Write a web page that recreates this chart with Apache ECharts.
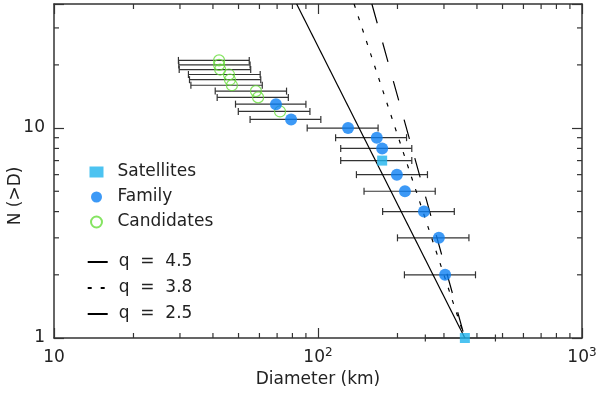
<!DOCTYPE html>
<html>
<head>
<meta charset="utf-8">
<script src="https://cdn.jsdelivr.net/npm/echarts@6/dist/echarts.min.js"></script>
<style>
  html, body { margin: 0; padding: 0; background: #fff; }
  #main { width: 600px; height: 398px; }
</style>
</head>
<body>
<div id="main"></div>
<script>
// values
const satD = [175, 360];
const satN = [7, 1];
const famD = [69.3, 79.1, 130, 167, 175, 199, 213.5, 252, 287, 303];
const famN = [13, 11, 10, 9, 8, 6, 5, 4, 3, 2];
const candD = [42.2, 42.2, 42.6, 46, 46.4, 47.2, 58.2, 59.3, 71.8];
const candN = [21, 20, 19, 18, 17, 16, 15, 14, 12];
// horizontal error bars (low / high diameter) for every N
const errN = [21, 20, 19, 18, 17, 16, 15, 14, 13, 12, 11, 10, 9, 8, 7, 6, 5, 4, 3, 2, 1];
const errLo = [29.6, 29.7, 29.8, 32.3, 32.6, 33.0, 40.8, 41.5, 48.7, 49.9, 55.3, 91.0, 116.6, 121.9, 121.9, 139.8, 149.4, 175.7, 200, 212.5, 255];
const errHi = [54.9, 55.3, 55.6, 60.4, 60.7, 61.5, 76.0, 77.2, 90.0, 93.2, 102.5, 168.9, 216.5, 226.6, 226.6, 259.8, 278, 328.3, 373, 395, 470];
// power law lines, end points [D, N]
const lineQ45 = [[160, 39], [360, 1]];
const lineQ38 = [[137, 39], [360, 1]];
const lineQ25 = [[83, 39], [360, 1]];
// minor tick positions
const xMinor = [20, 30, 40, 50, 60, 70, 80, 90, 200, 300, 400, 500, 600, 700, 800, 900];
const yMinor = [2, 3, 4, 5, 6, 7, 8, 9, 20, 30];

const FONT = 'DejaVu Sans';
const INK = '#222';
const X_MIN = 10, X_MAX = 1000, Y_MIN = 1, Y_MAX = 39;

let myChart = echarts.init(document.getElementById('main'));

function renderErr(params, api) {
  const n = api.value(0);
  const a = api.coord([api.value(1), n]);
  const b = api.coord([api.value(2), n]);
  const st = { stroke: '#333', lineWidth: 1.2 };
  return {
    type: 'group',
    children: [
      { type: 'line', shape: { x1: a[0], y1: a[1], x2: b[0], y2: b[1] }, style: st },
      { type: 'line', shape: { x1: a[0], y1: a[1] - 3.5, x2: a[0], y2: a[1] + 3.5 }, style: st },
      { type: 'line', shape: { x1: b[0], y1: b[1] - 3.5, x2: b[0], y2: b[1] + 3.5 }, style: st }
    ]
  };
}

function renderXMinor(params, api) {
  const v = api.value(0);
  const bot = api.coord([v, Y_MIN]);
  const top = api.coord([v, Y_MAX]);
  const st = { stroke: '#333', lineWidth: 1.2 };
  return {
    type: 'group',
    children: [
      { type: 'line', shape: { x1: bot[0], y1: bot[1], x2: bot[0], y2: bot[1] - 5 }, style: st },
      { type: 'line', shape: { x1: top[0], y1: top[1], x2: top[0], y2: top[1] + 5 }, style: st }
    ]
  };
}

function renderYMinor(params, api) {
  const v = api.value(1);
  const l = api.coord([X_MIN, v]);
  const r = api.coord([X_MAX, v]);
  const st = { stroke: '#333', lineWidth: 1.2 };
  return {
    type: 'group',
    children: [
      { type: 'line', shape: { x1: l[0], y1: l[1], x2: l[0] + 5, y2: l[1] }, style: st },
      { type: 'line', shape: { x1: r[0], y1: r[1], x2: r[0] - 5, y2: r[1] }, style: st }
    ]
  };
}

const axisLine = { lineStyle: { color: '#333', width: 1.5 } };
const axisTick = { inside: true, length: 10, lineStyle: { color: '#333', width: 1.2 } };

myChart.setOption({
  animation: false,
  backgroundColor: '#fff',
  textStyle: { fontFamily: FONT, color: INK },
  grid: { left: 54, right: 18, top: 4, bottom: 60, outerBoundsMode: 'none', containLabel: false },
  legend: [
    {
      data: ['Satellites', 'Family', 'Candidates'],
      orient: 'vertical',
      left: 89.5,
      top: 162,
      padding: 0,
      itemWidth: 14,
      itemHeight: 11,
      itemGap: 5,
      textStyle: { fontFamily: FONT, fontSize: 17, color: INK, lineHeight: 20, padding: [0, 0, 0, 9] }
    },
    {
      data: ['q = 4.5', 'q = 3.8', 'q = 2.5'],
      orient: 'vertical',
      left: 86.7,
      top: 252,
      padding: 0,
      itemWidth: 20,
      itemHeight: 12,
      itemGap: 6,
      itemStyle: { color: 'rgba(0,0,0,0)', borderWidth: 0, opacity: 0 },
      formatter: (name) => name.replace(/ /g, '  '),
      textStyle: { fontFamily: FONT, fontSize: 17, color: INK, lineHeight: 20, padding: [0, 0, 0, 6] }
    }
  ],
  xAxis: [
    {
      type: 'log', logBase: 10, min: X_MIN, max: X_MAX, position: 'bottom',
      axisLine: axisLine, axisTick: axisTick, splitLine: { show: false },
      axisLabel: {
        margin: 9,
        color: INK,
        formatter: (v) => {
          const e = Math.round(Math.log10(v));
          return e === 1 ? '{b|10}' : '{b|10}{s|' + e + '}';
        },
        rich: {
          b: { fontFamily: FONT, fontSize: 17, color: INK, lineHeight: 22 },
          s: { fontFamily: FONT, fontSize: 12, color: INK, lineHeight: 12, verticalAlign: 'top' }
        }
      },
      name: 'Diameter (km)', nameLocation: 'middle', nameGap: 32,
      nameTextStyle: { fontFamily: FONT, fontSize: 17, color: INK }
    },
    {
      type: 'log', logBase: 10, min: X_MIN, max: X_MAX, position: 'top',
      axisLine: axisLine, axisTick: axisTick, splitLine: { show: false },
      axisLabel: { show: false }
    }
  ],
  yAxis: [
    {
      type: 'log', logBase: 10, min: Y_MIN, max: Y_MAX, position: 'left',
      axisLine: axisLine, axisTick: axisTick, splitLine: { show: false },
      axisLabel: {
        margin: 9, fontSize: 17, color: INK, fontFamily: FONT,
        formatter: (v) => {
          const e = Math.log10(v);
          return Math.abs(e - Math.round(e)) < 1e-6 ? String(Math.round(v)) : '';
        }
      },
      name: 'N (>D)', nameLocation: 'middle', nameGap: 30, nameRotate: 90,
      nameMoveOverlap: false,
      nameTextStyle: { fontFamily: FONT, fontSize: 17, color: INK, padding: [0, 50, 0, 0] }
    },
    {
      type: 'log', logBase: 10, min: Y_MIN, max: Y_MAX, position: 'right',
      axisLine: axisLine, axisTick: axisTick, splitLine: { show: false },
      axisLabel: { show: false }
    }
  ],
  series: [
    {
      type: 'custom', name: 'xminor', renderItem: renderXMinor, silent: true,
      data: xMinor.map((v) => [v, 2]), encode: { x: 0, y: 1 }, z: 1
    },
    {
      type: 'custom', name: 'yminor', renderItem: renderYMinor, silent: true,
      data: yMinor.map((v) => [100, v]), encode: { x: 0, y: 1 },
      z: 1
    },
    {
      type: 'custom', name: 'errors', renderItem: renderErr, silent: true,
      data: errN.map((n, i) => [n, errLo[i], errHi[i]]),
      dimensions: ['n', 'lo', 'hi'],
      encode: { x: [1, 2], y: 0 }, z: 2
    },
    {
      name: 'q = 4.5', type: 'line', data: lineQ45, symbol: 'none', z: 3,
      itemStyle: { color: '#000' },
      lineStyle: { color: '#000', width: 1.2, type: [20, 20] }
    },
    {
      name: 'q = 3.8', type: 'line', data: lineQ38, symbol: 'none', z: 3,
      itemStyle: { color: '#000' },
      lineStyle: { color: '#000', width: 1.2, type: [4, 9] }
    },
    {
      name: 'q = 2.5', type: 'line', data: lineQ25, symbol: 'none', z: 3,
      itemStyle: { color: '#000' },
      lineStyle: { color: '#000', width: 1.2 }
    },
    {
      name: 'Candidates', type: 'scatter', symbol: 'circle', symbolSize: 11, z: 4,
      data: candD.map((d, i) => [d, candN[i]]),
      itemStyle: { color: 'rgba(0,0,0,0)', borderColor: '#66dd3a', borderWidth: 1.2 }
    },
    {
      name: 'Family', type: 'scatter', symbol: 'circle', symbolSize: 12, z: 5,
      data: famD.map((d, i) => [d, famN[i]]),
      itemStyle: { color: '#0b80f4' }
    },
    {
      name: 'Satellites', type: 'scatter', symbol: 'rect', symbolSize: 10, z: 5,
      data: satD.map((d, i) => [d, satN[i]]),
      itemStyle: { color: '#1fb4ee' }
    }
  ]
});
</script>
</body>
</html>
